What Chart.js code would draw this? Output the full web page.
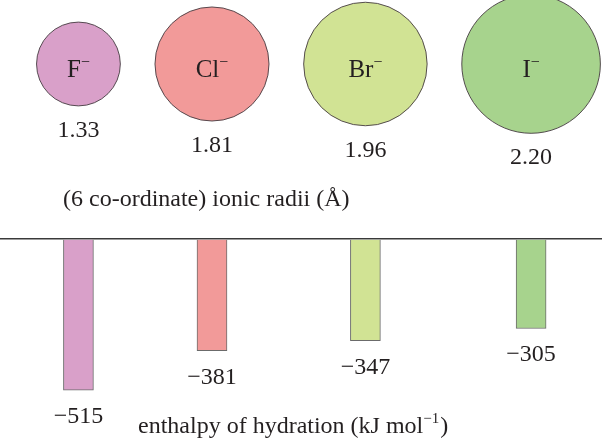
<!DOCTYPE HTML>
<html>
<head>
	<meta charset="utf-8" />
	<title>Halide ions: ionic radii and enthalpy of hydration</title>
	<script src="https://cdn.jsdelivr.net/npm/chart.js"></script>
	<style>
		html, body { margin: 0; padding: 0; background: #fff; }
		canvas { display: block; }
	</style>
</head>
<body>
	<canvas id="radii" width="610" height="230"></canvas>
	<canvas id="hydration" width="610" height="211"></canvas>

	<script>
		// data
		const ions = ["F", "Cl", "Br", "I"];
		const ionicRadii = [1.33, 1.81, 1.96, 2.20];          // Å
		const hydrationEnthalpy = [-515, -381, -347, -305];   // kJ mol-1
		const radiiTitle = "(6 co-ordinate) ionic radii (Å)";
		const enthalpyTitle = "enthalpy of hydration (kJ mol";

		const fills = ["#d9a0c9", "#f29a99", "#d1e394", "#a7d38d"];
		const INK = "#231f20";
		const SERIF = "'Liberation Serif', 'Times New Roman', serif";

		// circles sit side by side, so x centres follow from the radii
		const PX = 31.5;      // pixels per angstrom
		const WIDTH = 602;    // plot width in px
		const LEFT = 1.16, GAP = 1.1;
		const centres = [];
		ionicRadii.forEach((r, i) => {
			centres.push(i === 0 ? LEFT + r : centres[i - 1] + ionicRadii[i - 1] + GAP + r);
		});

		function xScale() {
			return { type: "linear", display: false, offset: false, min: 0, max: WIDTH / PX };
		}

		function drawSup(ctx, base, sup, x, y, size, supSize, rise, centre) {
			ctx.font = size + "px " + SERIF;
			const w1 = ctx.measureText(base).width;
			ctx.font = supSize + "px " + SERIF;
			const w2 = ctx.measureText(sup).width;
			const x0 = centre ? x - (w1 + w2) / 2 : x;
			ctx.textAlign = "left";
			ctx.font = size + "px " + SERIF;
			ctx.fillText(base, x0, y);
			ctx.font = supSize + "px " + SERIF;
			ctx.fillText(sup, x0 + w1, y - rise);
			return x0 + w1 + w2;
		}

		const radiiLabels = {
			id: "radiiLabels",
			afterDatasetsDraw(chart) {
				const ctx = chart.ctx;
				ctx.save();
				ctx.fillStyle = INK;
				chart.getDatasetMeta(0).data.forEach((pt, i) => {
					const r = ionicRadii[i] * PX;
					drawSup(ctx, ions[i], "\u2212", pt.x, pt.y + 13, 25, 16, 10, true);
					ctx.font = "24px " + SERIF;
					ctx.textAlign = "center";
					ctx.fillText(ionicRadii[i].toFixed(2), pt.x, pt.y + r + 31);
				});
				ctx.font = "24px " + SERIF;
				ctx.textAlign = "left";
				ctx.fillText(radiiTitle, 63, 206);
				ctx.restore();
			}
		};

		const enthalpyLabels = {
			id: "enthalpyLabels",
			afterDatasetsDraw(chart) {
				const ctx = chart.ctx;
				ctx.save();
				ctx.fillStyle = INK;
				ctx.font = "24px " + SERIF;
				ctx.textAlign = "center";
				chart.getDatasetMeta(0).data.forEach((bar, i) => {
					ctx.fillText("\u2212" + Math.abs(hydrationEnthalpy[i]), bar.x, bar.y + 33);
				});
				const end = drawSup(ctx, enthalpyTitle, "\u22121", 138, 203, 24, 15, 10, false);
				ctx.font = "24px " + SERIF;
				ctx.fillText(")", end + 1, 203);
				ctx.restore();
			}
		};

		new Chart(document.getElementById("radii"), {
			type: "bubble",
			data: {
				datasets: [{
					data: ions.map((ion, i) => ({ x: centres[i], y: 0, r: ionicRadii[i] * PX })),
					backgroundColor: fills,
					borderColor: "rgba(70, 60, 65, 0.9)",
					borderWidth: 1,
					clip: false
				}]
			},
			options: {
				responsive: false,
				animation: false,
				events: [],
				layout: { autoPadding: false, padding: { left: 0, right: 8, top: 0, bottom: 102 } },
				plugins: { legend: { display: false }, tooltip: { enabled: false } },
				scales: {
					x: xScale(),
					y: { display: false, min: -1, max: 1 }
				}
			},
			plugins: [radiiLabels]
		});

		new Chart(document.getElementById("hydration"), {
			type: "bar",
			data: {
				datasets: [{
					data: ions.map((ion, i) => ({ x: centres[i], y: hydrationEnthalpy[i] })),
					backgroundColor: fills,
					borderColor: "#6b6b6b",
					borderWidth: 1,
					barThickness: 30
				}]
			},
			options: {
				responsive: false,
				animation: false,
				events: [],
				layout: { autoPadding: false, padding: { left: 0, right: 8, top: 9, bottom: 26 } },
				plugins: { legend: { display: false }, tooltip: { enabled: false } },
				scales: {
					x: xScale(),
					y: {
						min: -600,
						max: 0,
						z: 1,
						ticks: { display: false },
						border: { display: false },
						grid: {
							drawTicks: false,
							lineWidth: 1.6,
							color: (c) => (c.tick && c.tick.value === 0 ? "#3a3a3a" : "rgba(0,0,0,0)")
						}
					}
				}
			},
			plugins: [enthalpyLabels]
		});
	</script>
</body>
</html>
